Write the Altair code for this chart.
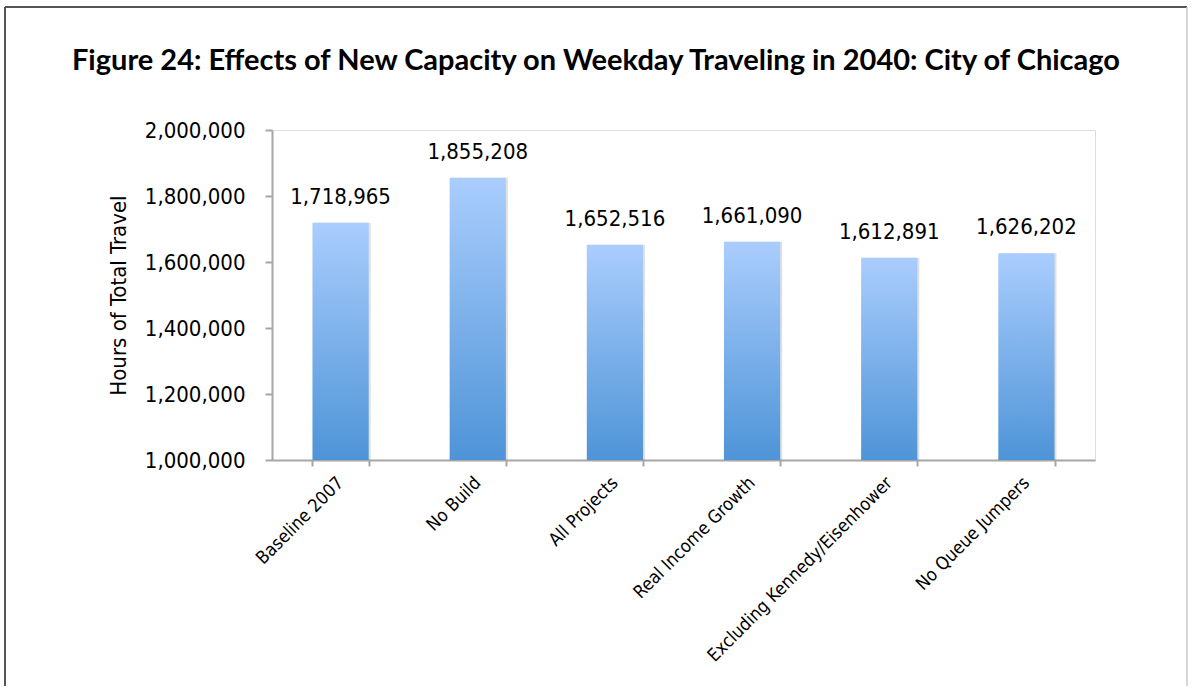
import altair as alt
import pandas as pd

categories = ["Baseline 2007", "No Build", "All Projects", "Real Income Growth",
              "Excluding Kennedy/Eisenhower", "No Queue Jumpers"]
values = [1718965, 1855208, 1652516, 1661090, 1612891, 1626202]
y_ticks = [1000000, 1200000, 1400000, 1600000, 1800000, 2000000]
base_value = 1000000

df = pd.DataFrame({"scenario": categories, "hours": values, "base": [base_value] * len(values)})

FONT = "Liberation Sans Narrow, DejaVu Sans Condensed, Arial Narrow, sans-serif"
W, H = 823, 330

x_enc = alt.X("scenario:N", sort=categories,
              scale=alt.Scale(paddingInner=0.59, paddingOuter=0.295),
              axis=alt.Axis(title=None, labelAngle=-45, labelAlign="right", labelBaseline="middle",
                            labelFontSize=18, labelFont=FONT, labelColor="#000",
                            labelPadding=14, tickSize=6, tickColor="#a6a6a6", tickWidth=2,
                            tickBand="extent", domainColor="#a6a6a6", domainWidth=2,
                            labelLimit=400))
y_scale = alt.Scale(domain=[1000000, 2000000], zero=False)
y_axis = alt.Axis(values=y_ticks, format=",d", labelFontSize=22, labelFont=FONT, labelColor="#000",
                  labelPadding=20, tickSize=7, tickColor="#a6a6a6", tickWidth=2,
                  domainColor="#a6a6a6", domainWidth=2, grid=False,
                  title="Hours of Total Travel", titleFont=FONT, titleFontSize=22,
                  titleFontWeight="normal", titleColor="#000", titlePadding=14)
y_enc = alt.Y("hours:Q", scale=y_scale, axis=y_axis)

gradient = alt.LinearGradient(gradient="linear",
                              stops=[alt.GradientStop(color="#aacdfd", offset=0),
                                     alt.GradientStop(color="#4e94d7", offset=1)],
                              x1=0, x2=0, y1=0, y2=1)

shadow = alt.Chart(df).mark_bar(color="#000", opacity=0.12, xOffset=2).encode(
    x=x_enc, y=y_enc, y2="base:Q")

bars = alt.Chart(df).mark_bar(color=gradient).encode(
    x=x_enc, y=y_enc, y2="base:Q")

labels = alt.Chart(df).mark_text(font=FONT, fontSize=22, baseline="alphabetic", dy=-19, color="#000").encode(
    x=x_enc, y=y_enc, text=alt.Text("hours:Q", format=",d"))

frame_df = pd.DataFrame({"k": [0]})
left_rule = alt.Chart(frame_df).mark_rule(color="#555", strokeWidth=2).encode(
    x=alt.value(-267), y=alt.value(-123), y2=alt.value(556))
top_rule = alt.Chart(frame_df).mark_rule(color="#555", strokeWidth=2).encode(
    x=alt.value(-267), x2=alt.value(915), y=alt.value(-123))
right_rule = alt.Chart(frame_df).mark_rule(color="#c8c8c8", strokeWidth=1.5).encode(
    x=alt.value(915), y=alt.value(-123), y2=alt.value(556))

chart = alt.layer(left_rule, top_rule, right_rule, shadow, bars, labels).properties(
    width=W, height=H,
    padding={"left": 4, "top": 6, "right": 0, "bottom": 0},
    title=alt.TitleParams("Figure 24: Effects of New Capacity on Weekday Traveling in 2040: City of Chicago",
                          font="Lato", fontSize=29, fontWeight="bold", color="#000",
                          anchor="middle", frame="bounds", offset=-70),
).configure_view(stroke="#000", strokeWidth=2).configure(background="#fff")

chart.save("out.html", embed_options={"renderer": "svg", "actions": False})
